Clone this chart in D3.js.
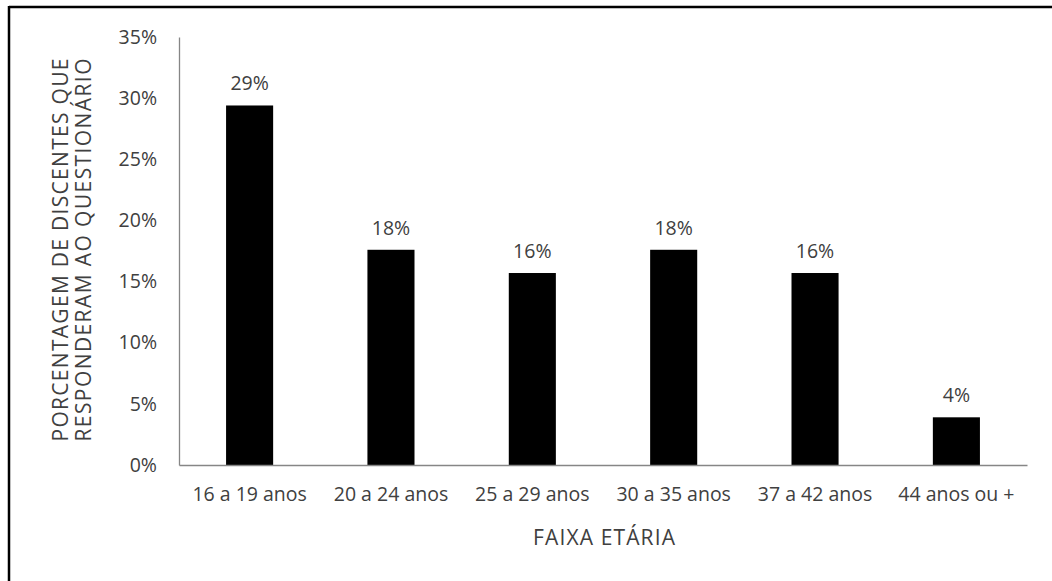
<!DOCTYPE html>
<html lang="pt">
<head>
<meta charset="utf-8"/>
<script src="https://cdn.jsdelivr.net/npm/d3@7"></script>
<style>
  body { margin: 0; background: #fff; }
  text { font-family: "Open Sans", "Liberation Sans", sans-serif; fill: #404040; }
</style>
</head>
<body>
<script>
  // dados (n = 51)
  var faixas = ["16 a 19 anos", "20 a 24 anos", "25 a 29 anos", "30 a 35 anos", "37 a 42 anos", "44 anos ou +"];
  var valores = [29.4, 17.6, 15.7, 17.6, 15.7, 3.9];
  var rotulos = ["29%", "18%", "16%", "18%", "16%", "4%"];
  var ticks = [0, 5, 10, 15, 20, 25, 30, 35];

  var w = 1052, h = 581;
  var svg = d3.select("body").append("svg")
    .attr("width", w)
    .attr("height", h);

  // moldura (so topo e esquerda aparecem)
  svg.append("line").attr("x1", 9).attr("x2", w).attr("y1", 7).attr("y2", 7)
    .attr("stroke", "#000").attr("stroke-width", 2.5);
  svg.append("line").attr("x1", 9).attr("x2", 9).attr("y1", 6).attr("y2", h)
    .attr("stroke", "#000").attr("stroke-width", 2.5);

  var mLeft = 179, mRight = 1027, mTop = 37, mBottom = 465;
  var fs = "19.5px", fsT = "21px";

  var x = d3.scaleBand().domain(faixas).range([mLeft, mRight]).paddingInner(0.667).paddingOuter(0.333);
  var y = d3.scaleLinear().domain([0, 35]).range([mBottom, mTop]);

  svg.selectAll("rect.bar")
    .data(valores)
    .enter().append("rect")
    .attr("class", "bar")
    .attr("x", function(d, i) { return x(faixas[i]); })
    .attr("y", function(d) { return y(d); })
    .attr("width", x.bandwidth())
    .attr("height", function(d) { return mBottom - y(d); })
    .attr("fill", "#000");

  svg.selectAll("text.lab")
    .data(valores)
    .enter().append("text")
    .attr("class", "lab")
    .attr("x", function(d, i) { return x(faixas[i]) + x.bandwidth() / 2; })
    .attr("y", function(d) { return y(d) - 15; })
    .attr("text-anchor", "middle")
    .style("font-size", fs)
    .text(function(d, i) { return rotulos[i]; });

  // eixo y
  var ay = svg.append("g")
    .attr("transform", "translate(" + mLeft + ",0)")
    .call(d3.axisLeft(y).tickValues(ticks).tickSize(0).tickPadding(22)
      .tickFormat(function(d) { return d + "%"; }));
  ay.select(".domain").attr("stroke", "#868686").attr("stroke-width", 1.3);
  ay.selectAll("text").style("font-size", fs).style("font-family", null).attr("fill", "#404040");

  // eixo x
  var ax = svg.append("g")
    .attr("transform", "translate(0," + mBottom + ")")
    .call(d3.axisBottom(x).tickSize(0).tickPadding(22));
  ax.select(".domain").attr("stroke", "#868686").attr("stroke-width", 1.3);
  ax.selectAll("text").style("font-size", fs).style("font-family", null).attr("fill", "#404040");

  svg.append("text")
    .attr("x", 604)
    .attr("y", 545)
    .attr("text-anchor", "middle")
    .attr("textLength", 142)
    .attr("lengthAdjust", "spacing")
    .style("font-size", fsT)
    .text("FAIXA ETÁRIA");

  var yt = svg.append("g")
    .attr("transform", "translate(0,250) rotate(-90)");
  yt.append("text").attr("x", 0).attr("y", 68)
    .attr("text-anchor", "middle")
    .attr("textLength", 383).attr("lengthAdjust", "spacing")
    .style("font-size", fsT)
    .text("PORCENTAGEM DE DISCENTES QUE");
  yt.append("text").attr("x", 0).attr("y", 91)
    .attr("text-anchor", "middle")
    .attr("textLength", 383).attr("lengthAdjust", "spacing")
    .style("font-size", fsT)
    .text("RESPONDERAM AO QUESTIONÁRIO");
</script>
</body>
</html>
